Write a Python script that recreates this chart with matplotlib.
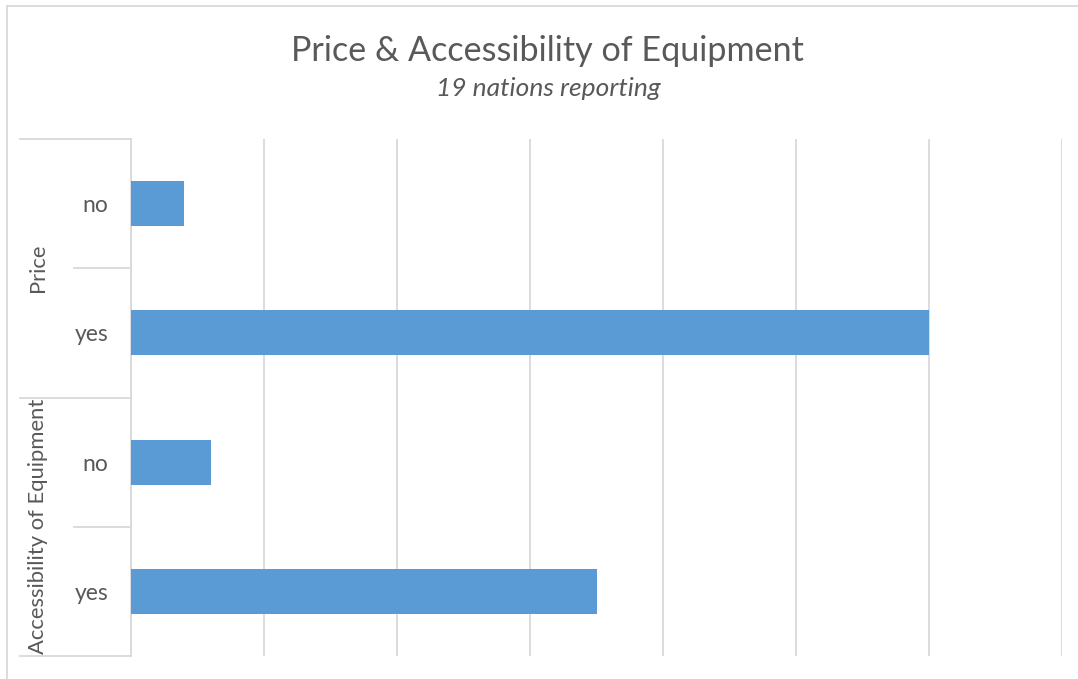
import matplotlib.pyplot as plt
from matplotlib.lines import Line2D

# data
groups = ["Price", "Accessibility of Equipment"]
answers = ["no", "yes"]
values = [0.4, 6.0, 0.6, 3.5]   # Price no, Price yes, Access no, Access yes

BAR_COLOR = "#5B9BD5"
GRID = "#D9D9D9"
TEXT = "#595959"
FONT = "Lato"

W, H = 1078, 679
fig = plt.figure(figsize=(W / 100, H / 100), dpi=100)
fig.patch.set_facecolor("white")

# plot area in pixels: x 131..1062, y 139..656
ax = fig.add_axes([131 / W, 1 - 656 / H, (1062 - 131) / W, (656 - 139) / H])

n = len(values)
ypos = list(range(n))
ax.barh(ypos, values, height=0.35, color=BAR_COLOR, zorder=3)
ax.set_xlim(0, 7)
ax.set_ylim(n - 0.5, -0.5)
ax.set_xticks(range(0, 8))
ax.set_xticklabels([])
ax.tick_params(axis="x", length=0)
ax.grid(axis="x", color=GRID, linewidth=1.3, zorder=0)
for s in ["top", "right", "bottom"]:
    ax.spines[s].set_visible(False)
ax.spines["left"].set_color(GRID)
ax.spines["left"].set_linewidth(1.3)

# inner category labels
ax.set_yticks(ypos)
ax.set_yticklabels(answers * len(groups), fontsize=16.5, color=TEXT, family=FONT)
ax.tick_params(axis="y", length=0, pad=16.5)

# group separators and labels
tr = ax.get_yaxis_transform()
x_outer = (20 - 131) / 931
x_inner = (74 - 131) / 931
per = len(answers)
for g, name in enumerate(groups):
    top = g * per - 0.5
    ax.plot([x_outer, 0], [top, top], transform=tr, color=GRID, lw=1.3, clip_on=False)
    for k in range(1, per):
        yy = top + k
        ax.plot([x_inner, 0], [yy, yy], transform=tr, color=GRID, lw=1.3, clip_on=False)
    ax.text((38 - 131) / 931, top + per / 2, name, transform=tr, rotation=90,
            ha="center", va="center", fontsize=15.8, color=TEXT, family=FONT)
bottom = len(groups) * per - 0.5
ax.plot([x_outer, 0], [bottom, bottom], transform=tr, color=GRID, lw=1.3, clip_on=False)

# chart border (top and left only visible in crop)
fig.add_artist(Line2D([7 / W, 1], [1 - 6 / H, 1 - 6 / H], color=GRID, lw=1.3))
fig.add_artist(Line2D([7 / W, 7 / W], [0, 1 - 6 / H], color=GRID, lw=1.3))

fig.text(547 / W, 1 - 51 / H, "Price & Accessibility of Equipment", ha="center", va="center",
         fontsize=24.6, color=TEXT, family=FONT)
fig.text(548 / W, 1 - 89 / H, "19 nations reporting", ha="center", va="center",
         fontsize=19, color=TEXT, family=FONT, style="italic")

plt.savefig("out.png", dpi=100)
plt.close()
